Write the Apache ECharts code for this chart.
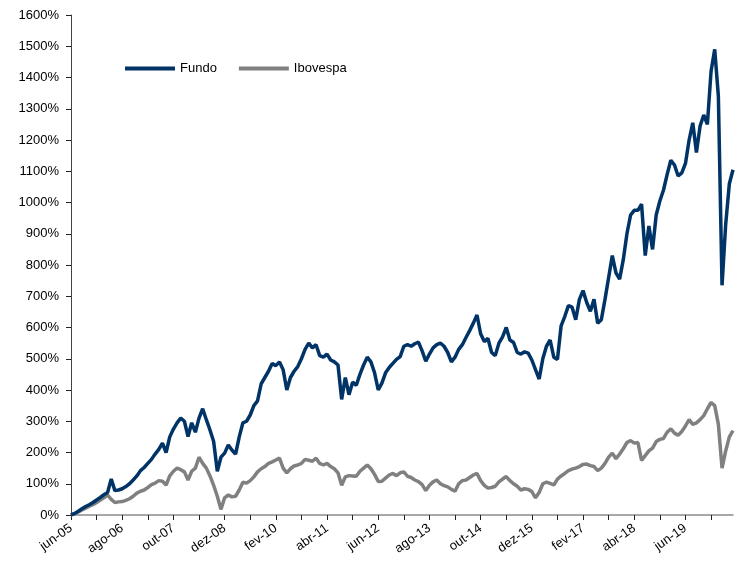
<!DOCTYPE html>
<html>
<head>
<meta charset="utf-8">
<script src="https://cdn.jsdelivr.net/npm/echarts@6/dist/echarts.min.js"></script>
<style>
html,body{margin:0;padding:0;background:#fff;}
#chart{width:739px;height:562px;}
</style>
</head>
<body>
<div id="chart"></div>
<script>
// Monthly dates from jun-05 to jul-20
const monthNames = ['jan','fev','mar','abr','mai','jun','jul','ago','set','out','nov','dez'];
const categories = [];
for (let i = 0; i < 182; i++) {
  const mi = (5 + i) % 12;
  const yr = 2005 + Math.floor((5 + i) / 12);
  categories.push(monthNames[mi] + '-' + String(yr % 100).padStart(2, '0'));
}

// Cumulative return (%) — Fundo
const fundo = [
  0,5,12,20,27,33,40,48,56,65,72,115,78,80,84,91,100,112,125,142,
  152,165,178,195,210,230,200,250,275,295,310,300,251,295,265,310,340,305,272,235,
  140,185,198,224,208,195,250,295,300,320,350,365,420,440,460,485,478,490,465,400,
  440,460,475,500,530,550,535,545,510,505,515,496,490,480,370,440,385,425,415,450,
  480,505,490,455,400,422,455,472,485,498,507,540,545,540,548,553,525,492,515,535,
  545,550,540,520,490,505,530,545,568,590,614,640,580,555,565,520,510,550,570,600,
  560,552,520,515,522,518,496,465,435,500,540,560,505,498,605,635,670,665,625,690,
  718,680,652,690,614,625,690,760,830,775,755,817,900,960,975,975,995,830,925,850,
  960,1005,1040,1090,1135,1120,1085,1095,1125,1200,1255,1160,1245,1280,1250,1420,1490,1340,735,930,
  1060,1105
];

// Cumulative return (%) — Ibovespa
const ibovespa = [
  0,4,10,16,22,28,33,40,48,55,64,50,40,42,43,47,52,60,70,76,
  80,88,97,102,110,108,96,125,140,150,145,138,112,140,150,185,165,150,125,95,
  60,18,55,64,58,60,80,105,102,110,122,138,148,155,165,170,176,182,150,135,
  148,157,160,165,178,175,172,182,165,160,165,155,148,135,95,122,126,125,124,140,
  150,160,148,130,107,108,118,128,133,126,135,138,124,120,112,107,97,78,95,106,
  112,100,94,90,82,76,100,110,112,120,128,133,110,95,86,88,92,106,115,123,
  110,100,92,80,84,82,75,55,72,100,105,101,96,115,125,133,142,147,150,155,
  162,163,158,155,142,150,165,185,198,180,195,212,232,238,230,232,175,190,205,214,
  235,242,245,265,276,262,255,267,285,305,290,295,305,318,340,360,350,290,150,205,
  250,270
];

const yTicks = { min: 0, max: 1600, step: 100 };

const chart = echarts.init(document.getElementById('chart'));
chart.setOption({
  animation: false,
  backgroundColor: '#ffffff',
  textStyle: { fontFamily: 'Liberation Sans' },
  grid: { left: 71, right: 6, top: 15, bottom: 47, containLabel: false },
  legend: {
    left: 120, top: 57,
    itemWidth: 50, itemHeight: 16, itemGap: 22,
    icon: 'path://M0,6 L50,6 L50,10 L0,10 Z',
    textStyle: { fontSize: 13, color: '#000', fontFamily: 'Liberation Sans' },
    data: ['Fundo', 'Ibovespa']
  },
  xAxis: {
    type: 'category',
    data: categories,
    boundaryGap: false,
    axisLine: { lineStyle: { color: '#8c8c8c', width: 1.5 } },
    axisTick: { show: true, interval: 6, length: 5, lineStyle: { color: '#222', width: 1 } },
    axisLabel: { interval: 13, rotate: 35, fontSize: 13, color: '#000', margin: 12, fontFamily: 'Liberation Sans' },
    splitLine: { show: false }
  },
  yAxis: {
    type: 'value',
    min: yTicks.min, max: yTicks.max, interval: yTicks.step,
    axisLine: { show: true, lineStyle: { color: '#444', width: 1 } },
    axisTick: { show: true, length: 5, lineStyle: { color: '#222' } },
    axisLabel: { formatter: function (v) { return v + '%'; }, fontSize: 13, color: '#000', margin: 12, fontFamily: 'Liberation Sans' },
    splitLine: { show: false }
  },
  series: [
    {
      name: 'Fundo', type: 'line', data: fundo, showSymbol: false, symbol: 'none',
      lineStyle: { color: '#003366', width: 3.5 }, itemStyle: { color: '#003366' }, z: 3
    },
    {
      name: 'Ibovespa', type: 'line', data: ibovespa, showSymbol: false, symbol: 'none',
      lineStyle: { color: '#808080', width: 3.5 }, itemStyle: { color: '#808080' }, z: 2
    }
  ]
});
</script>
</body>
</html>
